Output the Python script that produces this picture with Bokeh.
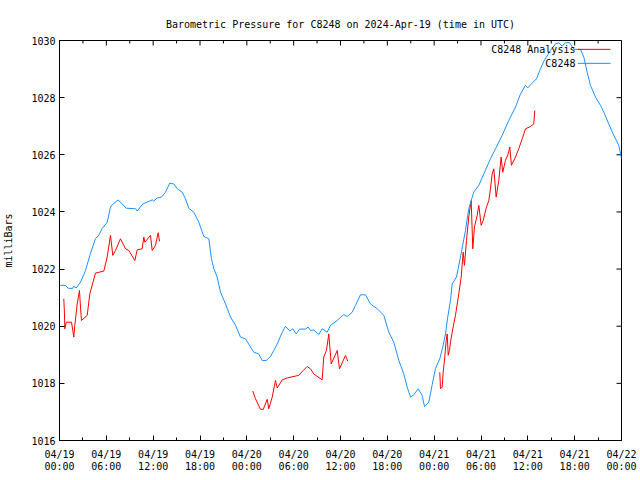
import math
from bokeh.plotting import figure
from bokeh.models import FixedTicker, Label, Range1d
from bokeh.embed import file_html
from bokeh.resources import INLINE

# ---- data (hours since 2024-04-19 00:00 UTC, pressure in mbar) ----
obs_hours = [0.0, 0.77, 1.11, 1.67, 1.79, 2.14, 2.69, 3.33, 3.97, 4.61, 5.03, 5.47, 6.11, 6.53, 6.75,
             7.52, 8.03, 8.54, 9.74, 9.95, 10.67, 11.88, 12.08, 12.52, 13.07, 13.58, 14.13, 14.64,
             15.08, 15.72, 16.14, 16.56, 17.20, 17.85, 18.49, 19.13, 19.47, 19.77, 20.20, 20.63,
             21.27, 21.91, 22.55, 23.19, 23.83, 24.47, 24.89, 25.53, 25.97, 26.48, 27.03, 27.45,
             27.89, 28.44, 28.95, 29.50, 29.89, 30.32, 30.75, 31.51, 31.86, 32.15, 32.58, 33.22,
             33.65, 34.29, 34.72, 35.57, 36.42, 36.86, 37.50, 37.92, 38.56, 39.20, 39.84, 40.70,
             41.55, 42.19, 42.83, 43.47, 44.11, 44.54, 44.97, 45.39, 45.95, 46.46, 46.76, 47.31,
             47.75, 48.17, 48.72, 49.15, 49.45, 49.74, 50.09, 50.31, 50.86, 51.37, 52.01, 52.43,
             53.07, 53.72, 54.36, 55.21, 55.86, 56.71, 57.56, 58.42, 59.06, 59.70, 59.99, 60.56,
             61.11, 61.53, 62.04, 62.90, 63.54, 63.96, 64.40, 64.82, 65.37, 65.89, 66.74, 67.17,
             67.60, 68.02, 68.67, 69.31, 69.73, 70.37, 71.01, 71.65, 72.0]
obs_mbar = [1021.43, 1021.43, 1021.33, 1021.32, 1021.40, 1021.34, 1021.54, 1021.95, 1022.55, 1023.07,
            1023.18, 1023.42, 1023.64, 1024.17, 1024.25, 1024.42, 1024.28, 1024.13, 1024.11, 1024.03,
            1024.28, 1024.42, 1024.38, 1024.49, 1024.52, 1024.69, 1025.01, 1024.98, 1024.81, 1024.69,
            1024.46, 1024.13, 1023.99, 1023.64, 1023.14, 1023.06, 1022.36, 1022.01, 1021.72, 1021.19,
            1020.78, 1020.32, 1020.03, 1019.62, 1019.56, 1019.27, 1019.09, 1019.03, 1018.80, 1018.80,
            1018.94, 1019.15, 1019.38, 1019.73, 1020.00, 1019.83, 1019.91, 1019.73, 1019.90, 1019.90,
            1019.97, 1019.85, 1019.87, 1019.71, 1019.91, 1019.79, 1020.03, 1020.20, 1020.41, 1020.34,
            1020.49, 1020.73, 1021.10, 1021.10, 1020.78, 1020.61, 1020.38, 1019.79, 1019.44, 1018.80,
            1018.33, 1017.87, 1017.52, 1017.60, 1017.81, 1017.58, 1017.19, 1017.34, 1017.96, 1018.52,
            1018.86, 1019.33, 1019.73, 1020.32, 1020.90, 1021.48, 1021.72, 1022.42, 1023.35, 1024.11,
            1024.69, 1024.93, 1025.33, 1025.86, 1026.21, 1026.68, 1027.20, 1027.67, 1028.13, 1028.43,
            1028.34, 1028.51, 1028.66, 1028.95, 1029.27, 1029.65, 1029.88, 1029.92, 1029.80, 1029.92,
            1029.92, 1029.69, 1029.69, 1029.42, 1028.89, 1028.43, 1028.02, 1027.73, 1027.49, 1027.08,
            1026.68, 1026.33, 1025.88]

ana1_hours = [0.55, 0.64, 0.68, 0.86, 1.54, 1.70, 1.83, 1.96, 2.27, 2.56, 2.69, 2.82, 3.55, 3.88, 4.61,
              5.68, 6.11, 6.53, 6.83, 7.17, 7.81, 8.46, 8.88, 9.65, 9.95, 10.59, 10.80, 10.93, 11.66,
              11.88, 12.30, 12.64, 12.81]
ana1_mbar = [1020.96, 1020.43, 1019.91, 1020.14, 1020.14, 1019.85, 1019.62, 1020.03, 1020.78, 1021.25,
             1020.67, 1020.20, 1020.38, 1021.13, 1021.86, 1021.93, 1022.42, 1023.18, 1022.48, 1022.65,
             1023.06, 1022.71, 1022.65, 1022.30, 1022.67, 1022.71, 1023.12, 1022.94, 1023.18, 1022.65,
             1022.83, 1023.27, 1022.97]

ana2_hours = [24.76, 25.11, 25.75, 26.10, 26.61, 26.81, 27.25, 27.67, 27.89, 28.53, 29.17, 30.66, 31.22,
              31.73, 32.15, 32.58, 33.65, 33.86, 34.20, 34.50, 34.81, 35.58, 35.87, 36.64, 36.93]
ana2_mbar = [1017.73, 1017.46, 1017.09, 1017.09, 1017.44, 1017.11, 1017.52, 1018.10, 1017.84, 1018.12,
             1018.19, 1018.28, 1018.45, 1018.59, 1018.51, 1018.33, 1018.12, 1018.92, 1019.15, 1019.73,
             1018.68, 1019.15, 1018.51, 1018.98, 1018.78]

ana3_hours = [48.72, 48.81, 49.03, 49.15, 49.36, 49.54, 49.67, 49.80, 49.96, 50.09, 50.31, 50.51, 50.73,
              51.15, 51.46, 51.72, 51.88, 52.14, 52.43, 52.74, 52.95, 53.16, 53.51, 53.72, 54.02, 54.28,
              54.70, 55.00, 55.21, 55.43, 55.64, 55.94, 56.28, 56.58, 56.79, 57.13, 57.48, 57.69, 57.90,
              58.42, 58.84, 59.28, 59.70, 60.34, 60.76, 60.89]
ana3_mbar = [1018.39, 1017.81, 1017.87, 1018.39, 1018.92, 1019.50, 1019.73, 1018.98, 1019.15, 1019.44,
             1019.79, 1020.08, 1020.38, 1021.13, 1021.72, 1022.59, 1022.13, 1023.00, 1023.82, 1024.40,
             1022.71, 1023.47, 1023.88, 1024.23, 1023.53, 1023.70, 1024.17, 1024.40, 1024.81, 1025.33,
             1025.51, 1024.52, 1025.10, 1025.92, 1025.39, 1025.80, 1026.03, 1026.27, 1025.63, 1025.92,
             1026.21, 1026.56, 1026.91, 1026.99, 1027.08, 1027.55]

x_ticks = [0, 6, 12, 18, 24, 30, 36, 42, 48, 54, 60, 66, 72]
x_minor = [3, 9, 15, 21, 27, 33, 39, 45, 51, 57, 63, 69]
x_tick_labels = ["04/19\n00:00", "04/19\n06:00", "04/19\n12:00", "04/19\n18:00",
                 "04/20\n00:00", "04/20\n06:00", "04/20\n12:00", "04/20\n18:00",
                 "04/21\n00:00", "04/21\n06:00", "04/21\n12:00", "04/21\n18:00",
                 "04/22\n00:00"]
y_ticks = [1016, 1018, 1020, 1022, 1024, 1026, 1028, 1030]
x_lo, x_hi = 0, 72
y_lo, y_hi = 1016, 1030

series_names = ["C8248 Analysis", "C8248"]
series_colors = ["#ff0000", "#1e90ff"]

FONT = "DejaVu Sans Mono"
FS = "10px"

p = figure(frame_width=562, frame_height=400, output_backend="svg", toolbar_location=None,
           x_range=Range1d(x_lo, x_hi), y_range=Range1d(y_lo, y_hi),
           title="Barometric Pressure for C8248 on 2024-Apr-19 (time in UTC)")
p.min_border_left = 59
p.min_border_right = 19
p.min_border_top = 40
p.min_border_bottom = 40
p.grid.visible = False
p.outline_line_color = "black"
p.outline_line_alpha = 1.0
p.background_fill_color = "white"
p.border_fill_color = "white"

p.title.text_font = FONT
p.title.text_font_size = FS
p.title.text_font_style = "normal"
p.title.text_color = "black"
p.title.align = "center"
p.title.standoff = 22

xt = FixedTicker(ticks=x_ticks, minor_ticks=x_minor)
yt = FixedTicker(ticks=y_ticks, minor_ticks=[])

def style_axis(ax, ticker):
    ax.ticker = ticker
    ax.axis_line_color = "black"
    ax.major_tick_line_color = "black"
    ax.minor_tick_line_color = "black"
    ax.major_tick_in = 5
    ax.major_tick_out = 0
    ax.minor_tick_in = 3
    ax.minor_tick_out = 0
    ax.major_label_text_font = FONT
    ax.major_label_text_font_size = FS
    ax.major_label_text_color = "black"

style_axis(p.xaxis[0], xt)
p.xaxis[0].major_label_overrides = {t: l for t, l in zip(x_ticks, x_tick_labels)}
p.xaxis[0].major_label_text_line_height = 1.1
p.xaxis[0].major_label_standoff = 8
style_axis(p.yaxis[0], yt)
p.yaxis[0].major_label_standoff = 4
p.yaxis[0].axis_label = "milliBars"
p.yaxis[0].axis_label_text_font = FONT
p.yaxis[0].axis_label_text_font_size = FS
p.yaxis[0].axis_label_text_font_style = "normal"
p.yaxis[0].axis_label_text_color = "black"
p.yaxis[0].axis_label_standoff = 14

# mirrored tick marks on the top and right edges (gnuplot style)
p.ray(x=x_ticks, y=[y_hi] * len(x_ticks), length=5, length_units="screen",
      angle=-math.pi / 2, line_color="black", line_width=1)
p.ray(x=x_minor, y=[y_hi] * len(x_minor), length=3, length_units="screen",
      angle=-math.pi / 2, line_color="black", line_width=1)
p.ray(x=[x_hi] * len(y_ticks), y=y_ticks, length=5, length_units="screen",
      angle=math.pi, line_color="black", line_width=1)

p.line(ana1_hours, ana1_mbar, line_color=series_colors[0], line_width=1)
p.line(ana2_hours, ana2_mbar, line_color=series_colors[0], line_width=1)
p.line(ana3_hours, ana3_mbar, line_color=series_colors[0], line_width=1)
p.line(obs_hours, obs_mbar, line_color=series_colors[1], line_width=1)

# gnuplot-style key: text right-justified, sample line to its right
key_text_x = 66.1
key_line_x = [66.4, 70.6]
key_y = [1029.69, 1029.2]
for name, col, ky in zip(series_names, series_colors, key_y):
    p.add_layout(Label(x=key_text_x, y=ky, text=name, text_align="right", text_baseline="middle",
                       text_font=FONT, text_font_size=FS, text_color="black"))
    p.line(key_line_x, [ky, ky], line_color=col, line_width=1)

open("out.html", "w").write(file_html(p, INLINE))
